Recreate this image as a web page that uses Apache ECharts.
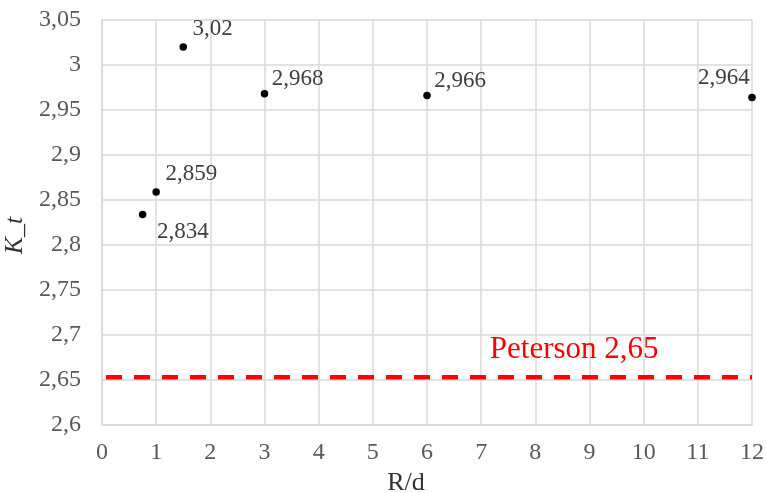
<!DOCTYPE html>
<html><head><meta charset="utf-8">
<script src="https://cdn.jsdelivr.net/npm/echarts@6/dist/echarts.min.js"></script>
<style>html,body{margin:0;padding:0;background:#fff}#c{width:766px;height:493px}</style>
</head><body><div id="c"></div>
<script>
const xValues = [0.75, 1, 1.5, 3, 6, 12];
const ktValues = [2.834, 2.859, 3.02, 2.968, 2.966, 2.964];
const labelTexts = ['2,834', '2,859', '3,02', '2,968', '2,966', '2,964'];
const labelPositions = ['bottomRight', 'topRight', 'topRight', 'topRightNear', 'topRightNear', 'topLeft'];
const petersonValue = 2.653;
const petersonX = [0, 12];
const petersonText = 'Peterson 2,65';
const petersonLabelX = 7.16;

const font = '"Liberation Serif", "Times New Roman", serif';
const fmt = v => String(Number(v.toFixed(3))).replace('.', ',');

const posMap = {
  topRight: {position: 'right', offset: [0.5, -18]},
  topRightNear: {position: 'right', offset: [-1.5, -15]},
  topLeft: {position: 'left', offset: [6.5, -19]},
  bottomRight: {position: 'right', offset: [5.5, 18]}
};

const pts = xValues.map((x, i) => ({
  value: [x, ktValues[i]],
  label: Object.assign({show: true, formatter: labelTexts[i]}, posMap[labelPositions[i]])
}));

const chart = echarts.init(document.getElementById('c'), null, {renderer: 'canvas'});
chart.setOption({
  animation: false,
  grid: {left: 102, right: 14, top: 20, bottom: 68, containLabel: false, outerBoundsMode: 'none'},
  xAxis: {
    type: 'value', min: 0, max: 12, interval: 1,
    name: 'R/d', nameLocation: 'middle', nameGap: 42,
    nameTextStyle: {fontFamily: font, fontSize: 26, color: '#333', padding: [0, 42, 0, 0]},
    axisLine: {show: true, lineStyle: {color: '#d9d9d9', width: 1.5}},
    axisTick: {show: false},
    axisLabel: {fontFamily: font, fontSize: 24, color: '#595959', margin: 16},
    splitLine: {show: true, lineStyle: {color: '#d9d9d9', width: 1.5}}
  },
  yAxis: {
    type: 'value', min: 2.6, max: 3.05, interval: 0.05,
    name: 'K_t', nameLocation: 'middle', nameGap: 66, nameRotate: 90,
    nameTextStyle: {fontFamily: font, fontSize: 26, fontStyle: 'italic', color: '#333', padding: [0, 26, 0, 0]},
    axisLine: {show: true, lineStyle: {color: '#d9d9d9', width: 1.5}},
    axisTick: {show: false},
    axisLabel: {fontFamily: font, fontSize: 24, color: '#595959', margin: 21, formatter: fmt},
    splitLine: {show: true, lineStyle: {color: '#d9d9d9', width: 1.5}}
  },
  series: [
    {
      type: 'line',
      data: petersonX.map(x => [x, petersonValue]),
      symbol: 'none',
      lineStyle: {color: '#ff0000', width: 4.5, type: [16, 12], dashOffset: -4},
      z: 3,
      markPoint: {
        symbol: 'circle', symbolSize: 0,
        data: [{coord: [petersonLabelX, petersonValue]}],
        label: {show: true, formatter: petersonText, position: 'right', distance: 0,
          fontFamily: font, fontSize: 31, color: '#ff0000', offset: [0, -27]}
      }
    },
    {
      type: 'scatter',
      data: pts,
      symbol: 'circle', symbolSize: 7.5,
      itemStyle: {color: '#000', opacity: 1},
      label: {fontFamily: font, fontSize: 23, color: '#404040'},
      z: 5
    }
  ]
});
</script></body></html>
